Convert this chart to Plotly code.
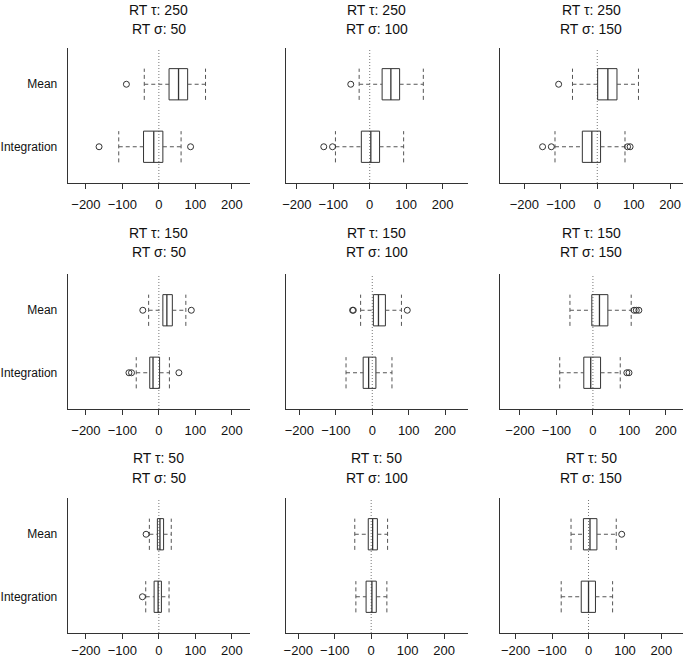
import plotly.graph_objects as go

# ---------------- data (panel order: row-major) ----------------
rt_tau = [250, 250, 250, 150, 150, 150, 50, 50, 50]
rt_sigma = [50, 100, 150, 50, 100, 150, 50, 100, 150]

groups = ["Integration", "Mean"]
group_pos = [1, 2]

mean_low = [-40, -29, -68, -28, -32, -63, -26, -45, -48]
mean_q1 = [28, 34, 1, 11, 3, -3, -4, -8, -14]
mean_med = [54, 58, 29, 22, 17, 18, 3, 4, 4]
mean_q3 = [79, 82, 54, 37, 36, 41, 13, 17, 23]
mean_high = [128, 147, 113, 74, 80, 105, 34, 45, 76]
mean_out = [[-89], [-52], [-106], [-44, 89], [-54, -52, 96], [113, 119, 126], [-35], [], [91]]

integ_low = [-110, -94, -116, -62, -72, -91, -36, -42, -75]
integ_q1 = [-42, -23, -41, -25, -25, -25, -13, -14, -20]
integ_med = [-14, 3, -15, -16, -10, -6, -2, 2, 0]
integ_q3 = [11, 27, 9, 2, 10, 21, 7, 14, 19]
integ_high = [61, 93, 76, 29, 54, 75, 28, 43, 66]
integ_out = [[-164, 87], [-126, -102], [-150, -126, 83, 90], [-82, -75, 55], [], [93, 99], [-45], [], []]

x_ticks = [-200, -100, 0, 100, 200]
x_left = [-250, -231, -266, -250, -238, -254, -250, -235, -242]
x_span = 500

# ---------------- layout geometry (pixels) ----------------
W, H = 683, 659
col_left = [67.7, 285.5, 500.3]
col_w = 182.3
row_top = [48, 274, 498]
row_bot = [183, 409, 633]
title_off2 = [18.7, 21.7, 19.7]
title_off1 = [38.0, 41.3, 39.7]
x_label_standoff = [4, 4, 0]

FONT = "Liberation Sans, Arial, Helvetica, sans-serif"
TXT = "#111111"
BOXC = "#333333"
WHC = "#555555"
half = 0.25

fig = go.Figure()
layout = dict(
    width=W, height=H, margin=dict(l=0, r=0, t=0, b=0, autoexpand=False),
    paper_bgcolor="white", plot_bgcolor="white", showlegend=False,
    font=dict(family=FONT, size=13, color=TXT),
)
annotations = []
shapes = []

stats = {
    1: (integ_low, integ_q1, integ_med, integ_q3, integ_high, integ_out),
    2: (mean_low, mean_q1, mean_med, mean_q3, mean_high, mean_out),
}

for i in range(9):
    r, c = divmod(i, 3)
    n = i + 1
    xa = "x" if n == 1 else f"x{n}"
    ya = "y" if n == 1 else f"y{n}"
    xk = "xaxis" if n == 1 else f"xaxis{n}"
    yk = "yaxis" if n == 1 else f"yaxis{n}"

    layout[xk] = dict(
        domain=[col_left[c] / W, min(1.0, (col_left[c] + col_w) / W)],
        anchor=ya, range=[x_left[i], x_left[i] + x_span], automargin=False,
        showline=True, linecolor="#333333", linewidth=1, mirror=False,
        showgrid=False, zeroline=False,
        tickmode="array", tickvals=x_ticks,
        ticktext=[f"{v}".replace("-", "\u2212") for v in x_ticks],
        ticks="outside", ticklen=5, tickcolor="#333333", tickwidth=1,
        tickangle=0,
        tickfont=dict(family=FONT, size=13, color=TXT),
        ticklabelstandoff=x_label_standoff[r],
    )
    layout[yk] = dict(
        domain=[1 - row_bot[r] / H, 1 - row_top[r] / H],
        anchor=xa, range=[0.42, 2.58], automargin=False,
        showline=True, linecolor="#333333", linewidth=1, mirror=False,
        showgrid=False, zeroline=False,
        tickmode="array", tickvals=group_pos,
        ticktext=groups if c == 0 else ["", ""],
        ticks="", tickfont=dict(family=FONT, size=12, color=TXT),
        ticklabelstandoff=7,
    )

    # dotted zero line
    shapes.append(dict(type="line", xref=xa, yref=f"{ya} domain", x0=0, x1=0, y0=0, y1=1,
                       line=dict(color="#777777", width=1, dash="1px,2px"), layer="below"))

    for pos in group_pos:
        lo, q1, med, q3, hi, out = (s[i] for s in stats[pos])
        # box
        fig.add_trace(go.Scatter(
            x=[q1, q3, q3, q1, q1], y=[pos - half, pos - half, pos + half, pos + half, pos - half],
            mode="lines", line=dict(color=BOXC, width=1), xaxis=xa, yaxis=ya, hoverinfo="skip"))
        # median
        fig.add_trace(go.Scatter(
            x=[med, med], y=[pos - half, pos + half], mode="lines",
            line=dict(color=BOXC, width=1.3), xaxis=xa, yaxis=ya, hoverinfo="skip"))
        # whiskers
        fig.add_trace(go.Scatter(
            x=[lo, q1, None, q3, hi], y=[pos, pos, None, pos, pos], mode="lines",
            line=dict(color=WHC, width=1, dash="4px,3px"), xaxis=xa, yaxis=ya, hoverinfo="skip"))
        # staples
        fig.add_trace(go.Scatter(
            x=[lo, lo, None, hi, hi], y=[pos - half, pos + half, None, pos - half, pos + half],
            mode="lines", line=dict(color=WHC, width=1, dash="4px,3px"),
            xaxis=xa, yaxis=ya, hoverinfo="skip"))
        # outliers
        if out:
            fig.add_trace(go.Scatter(
                x=out, y=[pos] * len(out), mode="markers",
                marker=dict(symbol="circle-open", size=6, color=BOXC, line=dict(width=1, color=BOXC)),
                xaxis=xa, yaxis=ya, hoverinfo="skip"))

    annotations.append(dict(
        text=f"RT \u03c4: {rt_tau[i]}", xref=f"{xa} domain", yref=f"{ya} domain",
        x=0.5, y=1, yanchor="middle", xanchor="center", yshift=title_off1[r],
        showarrow=False, font=dict(family=FONT, size=14, color=TXT)))
    annotations.append(dict(
        text=f"RT \u03c3: {rt_sigma[i]}", xref=f"{xa} domain", yref=f"{ya} domain",
        x=0.5, y=1, yanchor="middle", xanchor="center", yshift=title_off2[r],
        showarrow=False, font=dict(family=FONT, size=14, color=TXT)))

layout["annotations"] = annotations
layout["shapes"] = shapes
fig.update_layout(**layout)
fig.write_html("out.html", config={"displayModeBar": False},
               post_script="document.body.style.margin='0px';document.body.style.padding='0px';")
